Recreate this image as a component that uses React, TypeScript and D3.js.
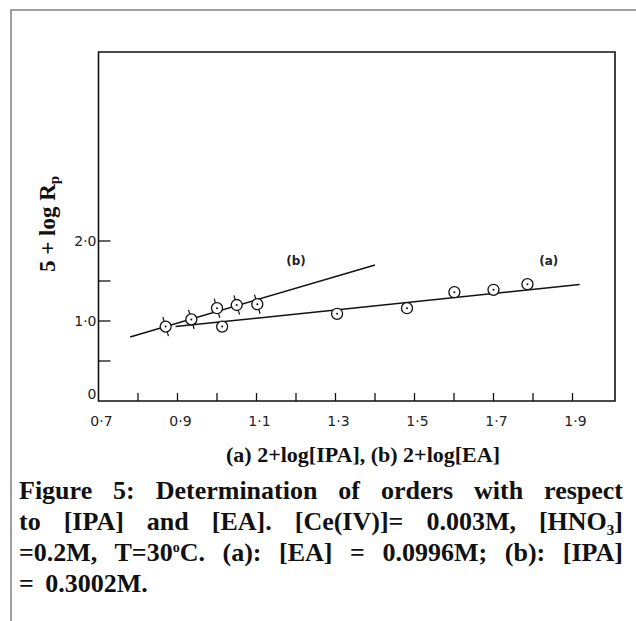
import { useEffect, useRef } from "react";
import * as d3 from "d3";

// values
const xTickValues = [0.8, 0.9, 1.0, 1.1, 1.2, 1.3, 1.4, 1.5, 1.6, 1.7, 1.8, 1.9];
const xTickLabels = ["0·7", "0·9", "1·1", "1·3", "1·5", "1·7", "1·9"];
const xLabelValues = [0.7, 0.9, 1.1, 1.3, 1.5, 1.7, 1.9];
const yTickValues = [0.5, 1.0, 1.5, 2.0];
const yLabelValues = [0, 1.0, 2.0];
const yTickLabels = ["0", "1·0", "2·0"];

// (b): 2+log[EA]
const seriesBX = [0.87, 0.935, 1.0, 1.05, 1.102];
const seriesBY = [0.93, 1.02, 1.16, 1.2, 1.21];
// (a): 2+log[IPA]
const seriesAX = [1.013, 1.304, 1.481, 1.601, 1.7, 1.786];
const seriesAY = [0.93, 1.09, 1.16, 1.36, 1.39, 1.46];

const fitBX = [0.78, 1.4];
const fitBY = [0.8, 1.7];
const fitAX = [0.895, 1.918];
const fitAY = [0.93, 1.456];

const captionLines = [
  "Figure 5: Determination of orders with respect",
  "to [IPA] and [EA]. [Ce(IV)]= 0.003M, [HNO3]",
  "=0.2M, T=30oC. (a): [EA] = 0.0996M; (b): [IPA]",
  "= 0.3002M.",
];

const W = 636;
const H = 621;
const plotLeft = 98.5;
const plotRight = 615;
const plotTop = 52;
const plotBottom = 401;

export default function App() {
  const svgRef = useRef<SVGSVGElement>(null);

  useEffect(() => {
    if (!svgRef.current) return;
    const svg = d3.select(svgRef.current);
    svg.selectAll("*").remove();

    const x = d3.scaleLinear().domain([0.7, 1.9]).range([plotLeft, 572.5]);
    const y = d3.scaleLinear().domain([0, 2]).range([plotBottom, 241]);

    // outer page frame
    svg
      .append("rect")
      .attr("x", 11)
      .attr("y", 10)
      .attr("width", 800)
      .attr("height", 800)
      .attr("fill", "none")
      .attr("stroke", "#808080")
      .attr("stroke-width", 1.5);

    const g = svg.append("g");

    // box: left axis, bottom axis, top, right
    g.append("path")
      .attr(
        "d",
        `M${plotLeft},${plotTop}L${plotRight},${plotTop}L${plotRight},${plotBottom}L${plotLeft},${plotBottom}Z`
      )
      .attr("fill", "none")
      .attr("stroke", "#111")
      .attr("stroke-width", 1.6);

    // x ticks (inward)
    g.selectAll(".xt")
      .data(xTickValues)
      .join("line")
      .attr("x1", (d) => x(d))
      .attr("x2", (d) => x(d))
      .attr("y1", plotBottom)
      .attr("y2", plotBottom - 8)
      .attr("stroke", "#111")
      .attr("stroke-width", 1.3);

    g.selectAll(".xl")
      .data(xLabelValues)
      .join("text")
      .attr("x", (d) => x(d) + 3)
      .attr("y", plotBottom + 25)
      .attr("text-anchor", "middle")
      .attr("font-family", "DejaVu Sans")
      .attr("font-size", 14)
      .attr("fill", "#222")
      .text((d, i) => xTickLabels[i]);

    // y ticks (inward)
    g.selectAll(".yt")
      .data(yTickValues)
      .join("line")
      .attr("x1", plotLeft)
      .attr("x2", plotLeft + 12)
      .attr("y1", (d) => y(d))
      .attr("y2", (d) => y(d))
      .attr("stroke", "#111")
      .attr("stroke-width", 1.3);

    g.selectAll(".yl")
      .data(yLabelValues)
      .join("text")
      .attr("x", plotLeft - 2)
      .attr("y", (d) => (d === 0 ? y(d) - 2 : y(d) + 5))
      .attr("text-anchor", "end")
      .attr("font-family", "DejaVu Sans")
      .attr("font-size", 14)
      .attr("fill", "#222")
      .text((d, i) => yTickLabels[i]);

    // fitted lines
    const drawFit = (xs: number[], ys: number[]) =>
      g
        .append("line")
        .attr("x1", x(xs[0]))
        .attr("y1", y(ys[0]))
        .attr("x2", x(xs[1]))
        .attr("y2", y(ys[1]))
        .attr("stroke", "#111")
        .attr("stroke-width", 1.5);
    drawFit(fitBX, fitBY);
    drawFit(fitAX, fitAY);

    // markers
    const r = 5.5;
    const drawPoints = (xs: number[], ys: number[], stubs: boolean) => {
      const pts = xs.map((v, i) => [x(v), y(ys[i])]);
      const dx = x(fitBX[1]) - x(fitBX[0]);
      const dy = y(fitBY[1]) - y(fitBY[0]);
      const len = Math.hypot(dx, dy);
      const px = -dy / len;
      const py = dx / len;
      const mg = g.append("g");
      if (stubs) {
        pts.forEach(([cx, cy]) => {
          [1, -1].forEach((s) => {
            mg.append("line")
              .attr("x1", cx + s * px * r)
              .attr("y1", cy + s * py * r)
              .attr("x2", cx + s * px * (r + 4.5))
              .attr("y2", cy + s * py * (r + 4.5))
              .attr("stroke", "#111")
              .attr("stroke-width", 1.2);
          });
        });
      }
      mg.selectAll("circle.c")
        .data(pts)
        .join("circle")
        .attr("cx", (d) => d[0])
        .attr("cy", (d) => d[1])
        .attr("r", r)
        .attr("fill", "#fff")
        .attr("stroke", "#111")
        .attr("stroke-width", 1.3);
      mg.selectAll("circle.d")
        .data(pts)
        .enter()
        .append("circle")
        .attr("cx", (d) => d[0])
        .attr("cy", (d) => d[1])
        .attr("r", 1)
        .attr("fill", "#111");
    };
    drawPoints(seriesAX, seriesAY, false);
    drawPoints(seriesBX, seriesBY, true);

    // series labels
    const seriesLabel = (v: number, s: string) =>
      g
        .append("text")
        .attr("x", x(v))
        .attr("y", y(2.0) + 24)
        .attr("text-anchor", "middle")
        .attr("font-family", "DejaVu Sans")
        .attr("font-weight", "bold")
        .attr("font-size", 12)
        .attr("fill", "#222")
        .text(s);
    seriesLabel(1.2, "(b)");
    seriesLabel(1.84, "(a)");

    // axis titles
    const yt = svg
      .append("text")
      .attr("transform", "translate(55,224) rotate(-90)")
      .attr("text-anchor", "middle")
      .attr("font-family", "Liberation Serif")
      .attr("font-weight", "bold")
      .attr("font-size", 23)
      .attr("fill", "#111");
    yt.append("tspan").text("5 + log R");
    yt.append("tspan").attr("font-size", 15).attr("dy", 4).text("p");

    svg
      .append("text")
      .attr("x", 363)
      .attr("y", 462)
      .attr("text-anchor", "middle")
      .attr("font-family", "Liberation Serif")
      .attr("font-weight", "bold")
      .attr("font-size", 22)
      .attr("fill", "#111")
      .text("(a) 2+log[IPA], (b) 2+log[EA]");

    // caption, justified to the right edge
    const capLeft = 19;
    const capRight = 623;
    const cap = svg
      .append("g")
      .attr("font-family", "Liberation Serif")
      .attr("font-weight", "bold")
      .attr("font-size", 26)
      .attr("fill", "#111");
    captionLines.forEach((txt, i) => {
      const t = cap
        .append("text")
        .attr("x", capLeft)
        .attr("y", 499 + i * 31);
      if (i === 1) {
        t.append("tspan").text("to [IPA] and [EA]. [Ce(IV)]= 0.003M, [HNO");
        t.append("tspan").attr("font-size", 15).attr("dy", 5).text("3");
        t.append("tspan").attr("dy", -5).text("]");
      } else if (i === 2) {
        t.append("tspan").text("=0.2M, T=30");
        t.append("tspan").attr("font-size", 14).attr("dy", -9).text("o");
        t.append("tspan").attr("dy", 9).text("C. (a): [EA] = 0.0996M; (b): [IPA]");
      } else {
        t.text(txt);
      }
      if (i < 3) {
        const node = t.node() as SVGTextElement;
        const w = node.getComputedTextLength();
        const spaces = (txt.match(/ /g) || []).length;
        if (spaces > 0) t.attr("word-spacing", (capRight - capLeft - w) / spaces);
      } else {
        t.attr("word-spacing", 5);
      }
    });
  }, []);

  return (
    <svg
      ref={svgRef}
      width={W}
      height={H}
      style={{ position: "absolute", left: 0, top: 0, background: "#fff" }}
    ></svg>
  );
}
